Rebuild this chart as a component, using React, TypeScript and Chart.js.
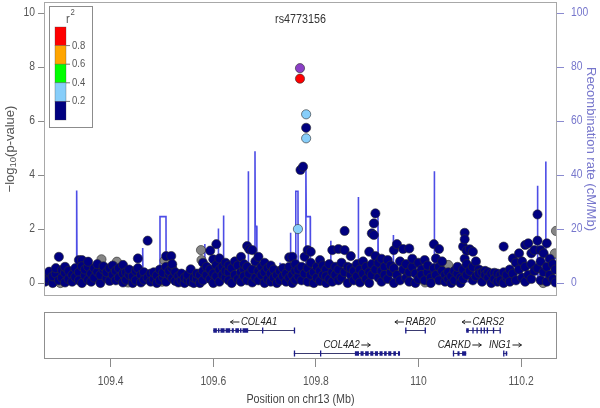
import React, { useEffect, useRef } from "react";
import { Chart, registerables } from "chart.js";
Chart.register(...registerables);

// ---------- axes ----------
const X_MIN = 109.27;
const X_MAX = 110.27;
const xTicks = [109.4, 109.6, 109.8, 110, 110.2];
const logPTicks = [0, 2, 4, 6, 8, 10];
const recombTicks = [0, 20, 40, 60, 80, 100];
const r2LegendLabels = ["0.8", "0.6", "0.4", "0.2"];
const r2LegendColors = ["#FF0000", "#FFA500", "#00FF00", "#87CEFA", "#000080"];

const indexSnpName = "rs4773156";
const xTitle = "Position on chr13 (Mb)";
const yRightTitle = "Recombination rate (cM/Mb)";

// ---------- SNPs: [position Mb, -log10 p] ----------
const indexSnp: [number, number][] = [[109.769, 7.96]];
const snpsR2_08_10: [number, number][] = [[109.769, 7.57]];
const snpsR2_02_04: [number, number][] = [[109.781, 6.25], [109.781, 5.36], [109.765, 2.0]];
const snpsNoR2: [number, number][] = [
  [109.302, 0.0], [109.330, 0.37], [109.382, 0.88], [109.412, 0.79], [109.434, 0.02],
  [109.500, 0.05], [109.505, 0.83], [109.576, 1.22], [109.577, 0.85], [109.625, 0.3],
  [109.790, 0.05], [110.013, 0.02], [110.058, 0.67], [110.243, 0.0], [110.266, 1.1], [110.268, 1.93],
];
const snpsR2_00_02: [number, number][] = [
  [109.781, 5.75], [109.770, 4.19], [109.775, 4.31],
  [109.272, 0.05], [109.272, 0.3], [109.280, 0.12], [109.280, 0.42], [109.287, 0.0], [109.287, 0.25],
  [109.293, 0.35], [109.293, 0.55], [109.299, 0.97], [109.299, 0.1], [109.305, 0.2], [109.305, 0.48],
  [109.311, 0.02], [109.311, 0.38], [109.311, 0.6], [109.318, 0.15], [109.318, 0.45], [109.325, 0.3],
  [109.325, 0.05], [109.331, 0.55], [109.331, 0.22], [109.338, 0.85], [109.338, 0.4], [109.338, 0.1],
  [109.344, 0.85], [109.344, 0.62], [109.344, 0.0], [109.350, 0.28], [109.350, 0.5], [109.356, 0.6],
  [109.356, 0.12], [109.356, 0.79], [109.362, 0.35], [109.362, 0.05], [109.368, 0.55], [109.368, 0.2],
  [109.374, 0.42], [109.374, 0.7], [109.380, 0.0], [109.380, 0.3], [109.386, 0.5], [109.386, 0.62],
  [109.392, 0.18], [109.392, 0.4], [109.398, 0.55], [109.398, 0.08], [109.404, 0.3], [109.404, 0.65],
  [109.410, 0.45], [109.410, 0.1], [109.416, 0.2], [109.416, 0.55], [109.424, 0.67], [109.424, 0.35],
  [109.424, 0.02], [109.430, 0.12], [109.430, 0.4], [109.436, 0.3], [109.436, 0.5], [109.443, 0.0],
  [109.443, 0.25], [109.449, 0.45], [109.449, 0.1], [109.453, 0.91], [109.453, 0.55], [109.459, 0.3],
  [109.459, 0.02], [109.465, 0.4], [109.465, 0.12], [109.472, 1.57], [109.472, 0.2], [109.478, 0.35],
  [109.478, 0.05], [109.484, 0.15], [109.484, 0.4], [109.490, 0.0], [109.490, 0.28], [109.496, 0.5],
  [109.496, 0.1], [109.502, 0.22], [109.502, 0.38], [109.508, 0.05], [109.508, 0.6], [109.508, 1.0],
  [109.514, 0.3], [109.514, 0.45], [109.518, 1.0], [109.520, 0.18], [109.520, 0.55], [109.520, 0.7],
  [109.526, 0.4], [109.526, 0.08], [109.532, 0.25], [109.532, 0.02], [109.538, 0.1], [109.538, 0.35],
  [109.544, 0.0], [109.544, 0.2], [109.550, 0.12], [109.550, 0.3], [109.556, 0.51], [109.556, 0.05],
  [109.562, 0.0], [109.562, 0.2], [109.568, 0.15], [109.568, 0.35], [109.574, 0.3], [109.574, 0.0],
  [109.580, 0.75], [109.580, 0.45], [109.580, 0.1], [109.587, 0.3], [109.587, 0.6], [109.594, 1.2],
  [109.594, 0.5], [109.594, 0.15], [109.600, 0.88], [109.600, 0.35], [109.600, 0.0], [109.606, 1.44],
  [109.606, 0.67], [109.606, 0.25], [109.612, 0.91], [109.612, 0.5], [109.612, 0.05], [109.618, 0.6],
  [109.618, 0.3], [109.624, 0.75], [109.624, 0.2], [109.624, 0.45], [109.630, 0.4], [109.630, 0.1],
  [109.630, 0.65], [109.636, 0.55], [109.636, 0.0], [109.642, 0.3], [109.642, 0.8], [109.648, 0.65],
  [109.648, 0.15], [109.654, 0.97], [109.654, 0.4], [109.654, 0.05], [109.660, 0.5], [109.660, 0.25],
  [109.660, 0.7], [109.666, 1.37], [109.666, 0.6], [109.666, 0.1], [109.670, 1.25], [109.670, 0.35],
  [109.676, 1.22], [109.676, 0.5], [109.676, 0.02], [109.682, 0.8], [109.682, 0.2], [109.688, 0.97],
  [109.688, 0.45], [109.688, 0.1], [109.694, 0.6], [109.694, 0.3], [109.700, 0.75], [109.700, 0.0],
  [109.700, 0.4], [109.706, 0.55], [109.706, 0.15], [109.712, 0.35], [109.712, 0.65], [109.712, 0.05],
  [109.718, 0.5], [109.718, 0.2], [109.724, 0.0], [109.724, 0.3], [109.730, 0.45], [109.730, 0.1],
  [109.736, 0.25], [109.736, 0.55], [109.742, 0.05], [109.742, 0.35], [109.748, 0.95], [109.748, 0.6],
  [109.748, 0.2], [109.754, 0.97], [109.754, 0.3], [109.754, 0.0], [109.760, 0.45], [109.760, 0.12],
  [109.760, 0.7], [109.766, 0.25], [109.766, 0.5], [109.772, 0.6], [109.772, 0.1], [109.778, 0.97],
  [109.778, 0.35], [109.784, 1.22], [109.784, 0.55], [109.784, 0.05], [109.790, 1.16], [109.790, 0.75],
  [109.790, 0.3], [109.796, 0.4], [109.796, 0.0], [109.802, 0.6], [109.802, 0.2], [109.808, 0.85],
  [109.808, 0.45], [109.808, 0.08], [109.814, 0.3], [109.814, 0.65], [109.820, 0.5], [109.820, 0.0],
  [109.820, 0.25], [109.826, 0.7], [109.826, 0.15], [109.832, 1.22], [109.832, 0.4], [109.832, 0.05],
  [109.838, 0.6], [109.838, 0.3], [109.844, 1.26], [109.844, 0.5], [109.844, 0.1], [109.850, 0.75],
  [109.850, 0.2], [109.856, 1.93], [109.856, 1.22], [109.856, 0.4], [109.862, 0.6], [109.862, 0.0],
  [109.868, 1.0], [109.868, 0.3], [109.868, 0.55], [109.874, 0.45], [109.874, 0.1], [109.880, 0.7],
  [109.880, 0.25], [109.886, 0.5], [109.886, 0.02], [109.892, 0.35], [109.892, 0.8], [109.898, 0.6],
  [109.898, 0.15], [109.904, 1.16], [109.904, 0.4], [109.904, 0.0], [109.909, 1.84], [109.909, 0.7],
  [109.909, 0.3], [109.913, 2.21], [109.913, 1.78], [109.916, 2.58], [109.916, 1.0], [109.916, 0.5],
  [109.922, 0.75], [109.922, 0.2], [109.928, 0.45], [109.928, 0.9], [109.928, 0.05], [109.934, 0.6],
  [109.934, 0.3], [109.940, 0.85], [109.940, 0.15], [109.946, 0.4], [109.946, 0.65], [109.952, 1.22],
  [109.952, 0.55], [109.952, 0.0], [109.958, 1.44], [109.958, 0.3], [109.964, 0.8], [109.964, 0.1],
  [109.970, 1.26], [109.970, 0.5], [109.976, 0.7], [109.976, 0.2], [109.982, 1.28], [109.982, 0.4],
  [109.982, 0.05], [109.988, 0.6], [109.988, 0.9], [109.994, 0.35], [109.994, 0.0], [110.000, 0.75],
  [110.000, 0.15], [110.006, 0.5], [110.006, 0.3], [110.012, 0.85], [110.012, 0.1], [110.018, 0.4],
  [110.018, 0.65], [110.024, 0.2], [110.024, 0.0], [110.030, 1.44], [110.030, 0.55], [110.034, 0.91],
  [110.034, 0.3], [110.040, 1.26], [110.040, 0.6], [110.040, 0.1], [110.046, 0.45], [110.046, 0.8],
  [110.052, 0.3], [110.052, 0.05], [110.058, 0.15], [110.058, 0.4], [110.064, 0.0], [110.064, 0.25],
  [110.070, 0.45], [110.070, 0.1], [110.076, 0.35], [110.076, 0.6], [110.082, 0.2], [110.082, 0.0],
  [110.087, 1.35], [110.087, 0.5], [110.087, 0.15], [110.090, 1.86], [110.090, 1.62], [110.090, 0.9],
  [110.094, 1.2], [110.094, 0.7], [110.094, 0.3], [110.100, 1.25], [110.100, 0.45], [110.106, 1.16],
  [110.106, 0.6], [110.106, 0.1], [110.112, 0.8], [110.112, 0.25], [110.118, 0.5], [110.118, 0.35],
  [110.124, 0.4], [110.124, 0.05], [110.130, 0.45], [110.130, 0.3], [110.136, 0.4], [110.136, 0.2],
  [110.142, 0.35], [110.142, 0.0], [110.148, 0.38], [110.148, 0.15], [110.154, 0.35], [110.154, 0.05],
  [110.160, 0.3], [110.160, 0.1], [110.166, 1.35], [110.166, 0.4], [110.166, 0.0], [110.172, 0.2],
  [110.172, 0.3], [110.178, 0.5], [110.178, 0.05], [110.184, 0.91], [110.184, 0.35], [110.190, 0.75],
  [110.190, 0.1], [110.196, 1.1], [110.196, 0.5], [110.202, 0.8], [110.202, 0.2], [110.208, 1.41],
  [110.208, 0.6], [110.208, 0.05], [110.214, 1.47], [110.214, 0.3], [110.220, 1.1], [110.220, 0.7],
  [110.220, 0.15], [110.226, 1.22], [110.226, 0.45], [110.232, 2.54], [110.232, 1.57], [110.232, 0.55],
  [110.238, 1.22], [110.238, 0.8], [110.238, 0.1], [110.244, 1.1], [110.244, 0.4], [110.250, 1.47],
  [110.250, 0.6], [110.250, 0.05], [110.256, 0.9], [110.256, 0.3], [110.262, 0.7], [110.262, 0.15],
  [110.267, 0.5], [110.267, 0.02],
];

// ---------- recombination rate (cM/Mb) ----------
const recombPos = [
  109.27, 109.3, 109.333, 109.3337, 109.3344, 109.36, 109.4, 109.43, 109.4618, 109.4624, 109.463,
  109.48, 109.4958, 109.4961, 109.5078, 109.5081, 109.54, 109.5828, 109.5833, 109.5838, 109.6,
  109.6093, 109.6098, 109.6103, 109.6194, 109.6199, 109.6204, 109.64, 109.6677, 109.6682, 109.6687,
  109.6808, 109.6813, 109.6818, 109.6846, 109.685, 109.7, 109.7297, 109.7302, 109.7307, 109.75,
  109.7505, 109.751, 109.7605, 109.7608, 109.7651, 109.7654, 109.78, 109.7805, 109.7812, 109.789,
  109.7893, 109.81, 109.8284, 109.8289, 109.8294, 109.86, 109.8822, 109.8827, 109.8832, 109.9,
  109.9205, 109.921, 109.9215, 109.926, 109.9263, 109.9504, 109.9509, 109.9514, 110.0, 110.0303,
  110.0308, 110.0313, 110.06, 110.1, 110.153, 110.1533, 110.184, 110.1843, 110.2315, 110.232,
  110.2325, 110.2475, 110.248, 110.2485, 110.27,
];
const recombRate = [
  0.8, 1.2, 1.2, 34.3, 1.0, 0.6, 1.5, 1.0, 1.0, 13, 1.8,
  1.8, 1.8, 24.6, 24.6, 1.2, 0.8, 0.8, 14.5, 2.5, 2.5,
  2.5, 20.2, 3, 3, 25, 2, 2, 2, 41.4, 3,
  3, 48.8, 21, 21, 2, 1.5, 1.5, 7.5, 1.5, 1.5,
  18.6, 2, 2, 34, 34, 3, 3, 44, 24.6, 24.6,
  2, 1.5, 1.5, 15.7, 1.5, 1.0, 1.0, 31.9, 2, 2,
  2, 24.6, 10, 10, 1.5, 1.5, 17.8, 1.5, 1.0, 1.0,
  41.4, 1.5, 1.0, 0.5, 0.5, 2.3, 2.3, 1.5, 1.5, 36,
  3, 3, 45, 9, 9,
];

// ---------- genes ----------
const geneNames = ["COL4A1", "COL4A2", "RAB20", "CARS2", "CARKD", "ING1"];
const geneStart = [109.6, 109.757, 109.974, 110.093, 110.067, 110.165];
const geneEnd = [109.758, 109.964, 110.013, 110.159, 110.093, 110.173];
const geneStrand = ["-", "+", "-", "-", "+", "+"];
const geneRow = [0, 1, 0, 0, 1, 1];
const geneExons: [number, number][][] = [
  [[109.600, 109.607], [109.609, 109.612], [109.614, 109.622], [109.624, 109.633], [109.636, 109.640],
   [109.643, 109.650], [109.652, 109.655], [109.657, 109.668], [109.695, 109.696], [109.757, 109.758]],
  [[109.757, 109.758], [109.808, 109.809], [109.876, 109.884], [109.887, 109.893], [109.896, 109.903],
   [109.906, 109.912], [109.915, 109.921], [109.924, 109.930], [109.933, 109.938], [109.941, 109.947],
   [109.951, 109.956], [109.960, 109.964]],
  [[109.974, 109.975], [110.012, 110.013]],
  [[110.093, 110.098], [110.105, 110.106], [110.113, 110.114], [110.121, 110.122], [110.127, 110.128],
   [110.133, 110.134], [110.145, 110.146], [110.158, 110.159]],
  [[110.067, 110.069], [110.076, 110.080], [110.085, 110.093]],
  [[110.165, 110.167], [110.170, 110.173]],
];

const FONT = '"Liberation Sans", Arial, sans-serif';
const SQ = 0.86; // horizontal squeeze of the reference's upright text
const GRAY_TXT = "#555555";
const RECOMB_TXT = "#7676cc";

const toXY = (arr: [number, number][]) => arr.map(([x, y]) => ({ x, y }));

function hText(ctx: CanvasRenderingContext2D, text: string, x: number, y: number, size: number,
  align: CanvasTextAlign, color: string, italic = false) {
  ctx.save();
  ctx.translate(x, y);
  ctx.scale(SQ, 1);
  ctx.font = `${italic ? "italic " : ""}${size}px ${FONT}`;
  ctx.textAlign = align;
  ctx.textBaseline = "middle";
  ctx.fillStyle = color;
  ctx.fillText(text, 0, 0);
  ctx.restore();
}

function hWidth(ctx: CanvasRenderingContext2D, text: string, size: number, italic = false) {
  ctx.save();
  ctx.font = `${italic ? "italic " : ""}${size}px ${FONT}`;
  const w = ctx.measureText(text).width * SQ;
  ctx.restore();
  return w;
}

function pointSet(label: string, data: [number, number][], fill: string, order: number) {
  return {
    type: "scatter" as const,
    label,
    data: toXY(data),
    yAxisID: "y",
    backgroundColor: fill,
    borderColor: "#2b2b2b",
    borderWidth: 0.6,
    pointRadius: 4.6,
    order,
  };
}

const mainDecor = {
  id: "mainDecor",
  afterDraw(chart: any) {
    const { ctx, chartArea: a } = chart;
    const yL = chart.scales.y, yR = chart.scales.yR;
    ctx.save();
    ctx.strokeStyle = "#a8a8a8";
    ctx.lineWidth = 1;
    ctx.strokeRect(a.left + 0.5, a.top + 0.5, a.right - a.left - 1, a.bottom - a.top - 1);

    // tick labels
    logPTicks.forEach((v) => hText(ctx, String(v), a.left - 9, yL.getPixelForValue(v), 12, "right", GRAY_TXT));
    recombTicks.forEach((v) => hText(ctx, String(v), a.right + 14, yR.getPixelForValue(v), 12, "left", RECOMB_TXT));

    // title
    hText(ctx, indexSnpName, (a.left + a.right) / 2, 20, 12.5, "center", "#333");

    // legend
    const lx = 49.5, ly = 6.5, lw = 43, lh = 121;
    ctx.fillStyle = "#fff";
    ctx.fillRect(lx, ly, lw, lh);
    ctx.strokeStyle = "#8c8c8c";
    ctx.strokeRect(lx, ly, lw, lh);
    const bx = 55, bw = 11, by = 27, seg = 18.6;
    r2LegendColors.forEach((c, i) => {
      ctx.fillStyle = c;
      ctx.fillRect(bx, by + i * seg, bw, seg);
      ctx.strokeStyle = "rgba(60,60,60,0.5)";
      ctx.lineWidth = 0.6;
      ctx.strokeRect(bx, by + i * seg, bw, seg);
    });
    ctx.strokeStyle = "#777";
    ctx.lineWidth = 1;
    r2LegendLabels.forEach((t, i) => {
      const yy = by + (i + 1) * seg;
      ctx.beginPath();
      ctx.moveTo(bx + bw, yy);
      ctx.lineTo(bx + bw + 4, yy);
      ctx.stroke();
      hText(ctx, t, bx + bw + 6, yy, 11, "left", GRAY_TXT);
    });
    hText(ctx, "r", 66, 19, 13, "left", GRAY_TXT);
    hText(ctx, "2", 70.5, 12.5, 9, "left", GRAY_TXT);

    // left axis title with subscript
    ctx.save();
    ctx.translate(10, (a.top + a.bottom) / 2);
    ctx.rotate(-Math.PI / 2);
    ctx.fillStyle = GRAY_TXT;
    ctx.textBaseline = "middle";
    ctx.textAlign = "left";
    const big = `13px ${FONT}`, small = `9.5px ${FONT}`;
    ctx.font = big;
    const p1 = "\u2212log", p3 = "(p-value)";
    const w1 = ctx.measureText(p1).width, w3 = ctx.measureText(p3).width;
    ctx.font = small;
    const w2 = ctx.measureText("10").width;
    let cx = -(w1 + w2 + w3) / 2;
    ctx.font = big;
    ctx.fillText(p1, cx, 0);
    cx += w1;
    ctx.font = small;
    ctx.fillText("10", cx, 3.5);
    cx += w2;
    ctx.font = big;
    ctx.fillText(p3, cx, 0);
    ctx.restore();

    // right axis title
    ctx.save();
    ctx.translate(591, (a.top + a.bottom) / 2);
    ctx.rotate(Math.PI / 2);
    ctx.fillStyle = RECOMB_TXT;
    ctx.font = `13px ${FONT}`;
    ctx.textAlign = "center";
    ctx.textBaseline = "middle";
    ctx.fillText(yRightTitle, 0, 0);
    ctx.restore();

    ctx.restore();
  },
};

function drawArrow(ctx: CanvasRenderingContext2D, x0: number, x1: number, y: number) {
  const dir = Math.sign(x1 - x0);
  ctx.beginPath();
  ctx.moveTo(x0, y);
  ctx.lineTo(x1, y);
  ctx.moveTo(x1, y);
  ctx.lineTo(x1 - dir * 3, y - 2);
  ctx.moveTo(x1, y);
  ctx.lineTo(x1 - dir * 3, y + 2);
  ctx.stroke();
}

const geneDecor = {
  id: "geneDecor",
  afterDraw(chart: any) {
    const { ctx, chartArea: a } = chart;
    const xs = chart.scales.x, ys = chart.scales.y;
    ctx.save();
    ctx.strokeStyle = "#8f8f8f";
    ctx.lineWidth = 1;
    ctx.strokeRect(a.left + 0.5, a.top + 0.5, a.right - a.left - 1, a.bottom - a.top - 1);

    geneNames.forEach((name, i) => {
      const x0 = xs.getPixelForValue(geneStart[i]);
      const x1 = xs.getPixelForValue(geneEnd[i]);
      const y = Math.round(ys.getPixelForValue(geneRow[i])) + 0.5;
      ctx.strokeStyle = "#3a3a70";
      ctx.lineWidth = 1;
      ctx.beginPath();
      ctx.moveTo(x0, y);
      ctx.lineTo(x1, y);
      ctx.stroke();
      ctx.fillStyle = "#1b1b8a";
      geneExons[i].forEach(([s, e]) => {
        const ex0 = xs.getPixelForValue(s);
        const ex1 = xs.getPixelForValue(e);
        const w = Math.max(1.3, ex1 - ex0);
        const tall = ex1 - ex0 < 1.5 ? 6 : 4.5;
        ctx.fillRect(ex0, y - tall / 2, w, tall);
      });
      // label with strand arrow
      ctx.strokeStyle = "#222";
      const tw = hWidth(ctx, name, 11, true);
      const aw = 9, gap = 1.5;
      const total = tw + aw + gap;
      const cx = (x0 + x1) / 2;
      const ly = y - 8.5;
      const sx = cx - total / 2;
      if (geneStrand[i] === "-") {
        drawArrow(ctx, sx + aw, sx, ly);
        hText(ctx, name, sx + aw + gap, ly, 11, "left", "#222", true);
      } else {
        hText(ctx, name, sx, ly, 11, "left", "#222", true);
        drawArrow(ctx, sx + tw + gap, sx + tw + gap + aw, ly);
      }
    });

    xTicks.forEach((v) => hText(ctx, String(v), xs.getPixelForValue(v), 82, 12, "center", GRAY_TXT));
    hText(ctx, xTitle, (a.left + a.right) / 2, 100, 12.5, "center", "#444");
    ctx.restore();
  },
};

export default function App() {
  const mainRef = useRef<HTMLCanvasElement>(null);
  const geneRef = useRef<HTMLCanvasElement>(null);

  useEffect(() => {
    if (!mainRef.current || !geneRef.current) return;
    const main = new Chart(mainRef.current, {
      type: "scatter",
      data: {
        datasets: [
          {
            type: "line" as const,
            label: "recomb",
            data: recombPos.map((p, i) => ({ x: p, y: recombRate[i] })),
            yAxisID: "yR",
            borderColor: "rgba(62,62,228,0.92)",
            borderWidth: 1.6,
            pointRadius: 0,
            tension: 0,
            fill: false,
            order: 10,
          } as any,
          pointSet("no r2", snpsNoR2, "#858585", 6),
          pointSet("r2 0-0.2", snpsR2_00_02, "#000080", 5),
          pointSet("r2 0.2-0.4", snpsR2_02_04, "#87CEFA", 3),
          pointSet("r2 0.8-1", snpsR2_08_10, "#FF0000", 2),
          pointSet(indexSnpName, indexSnp, "#8B3FC6", 1),
        ],
      },
      options: {
        animation: false,
        responsive: false,
        devicePixelRatio: 1,
        events: [],
        layout: { padding: { top: 2, bottom: 4, left: 0, right: 0 }, autoPadding: false },
        plugins: { legend: { display: false }, tooltip: { enabled: false } },
        scales: {
          x: { type: "linear", min: X_MIN, max: X_MAX, display: false },
          y: {
            type: "linear",
            position: "left",
            min: -0.48,
            max: 10.41,
            afterBuildTicks: (s: any) => { s.ticks = logPTicks.map((v) => ({ value: v })); },
            afterFit: (s: any) => { s.width = 44; s.paddingTop = 0; s.paddingBottom = 0; },
            grid: { drawOnChartArea: false, tickLength: 6, color: "#8a8a8a" },
            border: { display: false },
            ticks: { display: false },
          },
          yR: {
            type: "linear",
            position: "right",
            min: -4.8,
            max: 104.1,
            afterBuildTicks: (s: any) => { s.ticks = recombTicks.map((v) => ({ value: v })); },
            afterFit: (s: any) => { s.width = 43; s.paddingTop = 0; s.paddingBottom = 0; },
            grid: { drawOnChartArea: false, tickLength: 7, color: "#8a8ad0" },
            border: { display: false },
            ticks: { display: false },
          },
        },
      } as any,
      plugins: [mainDecor],
    });

    const genes = new Chart(geneRef.current, {
      type: "scatter",
      data: { datasets: [{ data: [], pointRadius: 0 }] },
      options: {
        animation: false,
        responsive: false,
        devicePixelRatio: 1,
        events: [],
        layout: { padding: { top: 12, bottom: 0, left: 44, right: 43 }, autoPadding: false },
        plugins: { legend: { display: false }, tooltip: { enabled: false } },
        scales: {
          x: {
            type: "linear",
            min: X_MIN,
            max: X_MAX,
            afterBuildTicks: (s: any) => { s.ticks = xTicks.map((v) => ({ value: v })); },
            afterFit: (s: any) => { s.height = 49; s.paddingLeft = 0; s.paddingRight = 0; },
            grid: { drawOnChartArea: false, tickLength: 8, color: "#8a8a8a" },
            border: { display: false },
            ticks: { display: false },
          },
          y: { type: "linear", display: false, min: -0.75, max: 1.25, reverse: true },
        },
      } as any,
      plugins: [geneDecor],
    });

    return () => {
      main.destroy();
      genes.destroy();
    };
  }, []);

  return (
    <div style={{ position: "absolute", left: 0, top: 0, width: 600, height: 408, background: "#fff" }}>
      <canvas ref={mainRef} width={600} height={300}
        style={{ position: "absolute", left: 0, top: 0, width: 600, height: 300 }} />
      <canvas ref={geneRef} width={600} height={108}
        style={{ position: "absolute", left: 0, top: 300, width: 600, height: 108 }} />
    </div>
  );
}
